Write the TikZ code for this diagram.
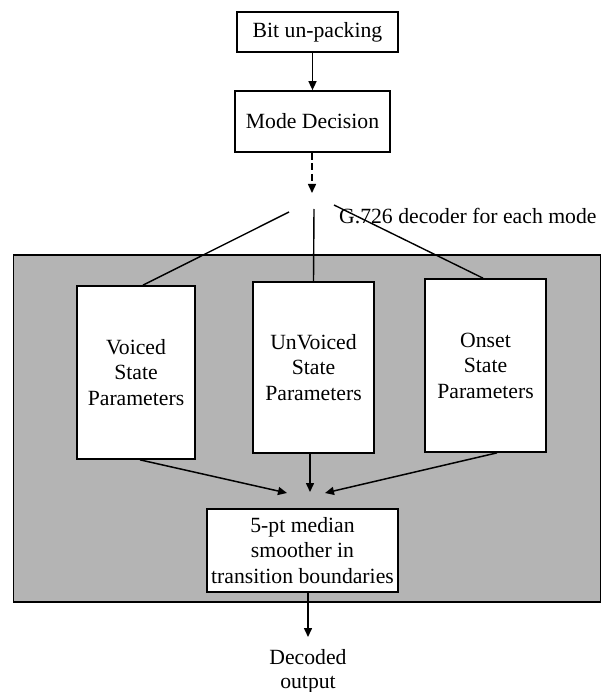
\documentclass[tikz,border=0pt]{standalone}
\usepackage{fontspec}
\setmainfont{Liberation Serif}
\usetikzlibrary{arrows.meta}
\definecolor{panelgray}{RGB}{180,180,180}
\begin{document}
\begin{tikzpicture}[x=1pt,y=-1pt,
  txt/.style={font=\fontsize{21.7}{25.5}\selectfont},
  box/.style={txt,draw=black,line width=1.7pt,fill=white,inner sep=0pt,align=center},
  arr/.style={line width=1.5pt,-{Triangle[length=9pt,width=8pt]}},
  ln/.style={line width=1.4pt}]
\useasboundingbox (0,0) rectangle (602,692);
% panel
\node (panel) [draw=black,line width=1.6pt,fill=panelgray,inner sep=0pt,
  minimum width=587pt,minimum height=347pt] at (307,428.5) {};
% boxes
\node (bit) [box,minimum width=161pt,minimum height=40pt] at (317.5,32) {Bit un-packing};
\node (mode) [box,minimum width=155pt,minimum height=61pt] at (312.5,121.5) {Mode Decision};
\node (voiced) [box,minimum width=118pt,minimum height=173pt] at (136,372.5) {Voiced\\State\\Parameters};
\node (unvoiced) [box,minimum width=121pt,minimum height=171pt] at (313.5,367.5) {UnVoiced\\State\\Parameters};
\node (onset) [box,minimum width=121pt,minimum height=173pt] at (485.5,365.5) {Onset\\State\\Parameters};
\node (smooth) [box,minimum width=191pt,minimum height=83pt] at (302.5,550.5) {5-pt median\\smoother in\\transition boundaries};
\node (out) [txt,anchor=north,inner sep=0pt,align=center,font=\fontsize{21.7}{24}\selectfont] at (308,649) {Decoded\\output};
\node (label) [txt,anchor=base west,inner sep=0pt] at (339,224) {G.726 decoder for each mode};
% coordinates
\coordinate (split) at (312,193);
\coordinate (lt) at (289,212);
\coordinate (mt) at (314,209);
\coordinate (rt) at (334,205);
\coordinate (tipL) at (287,493);
\coordinate (tipM) at (310,492);
\coordinate (tipR) at (325,493);
% connectors
\draw[arr] (bit.south -| mode.north) -- (mode.north);
\draw[arr,dash pattern=on 7pt off 3.5pt] (mode.south -| split) -- (split);
\draw[ln] (lt) -- ([xshift=7pt]voiced.north);
\draw[ln] (mt) -- (unvoiced.north);
\draw[ln] (rt) -- ([xshift=-2.5pt]onset.north);
\draw[arr] ([xshift=4pt]voiced.south) -- (tipL);
\draw[arr] ([xshift=-3.5pt]unvoiced.south) -- (tipM);
\draw[arr] ([xshift=11.5pt]onset.south) -- (tipR);
\draw[arr] ([xshift=5.5pt]smooth.south) -- ([yshift=12pt]out.north);
\end{tikzpicture}
\end{document}
